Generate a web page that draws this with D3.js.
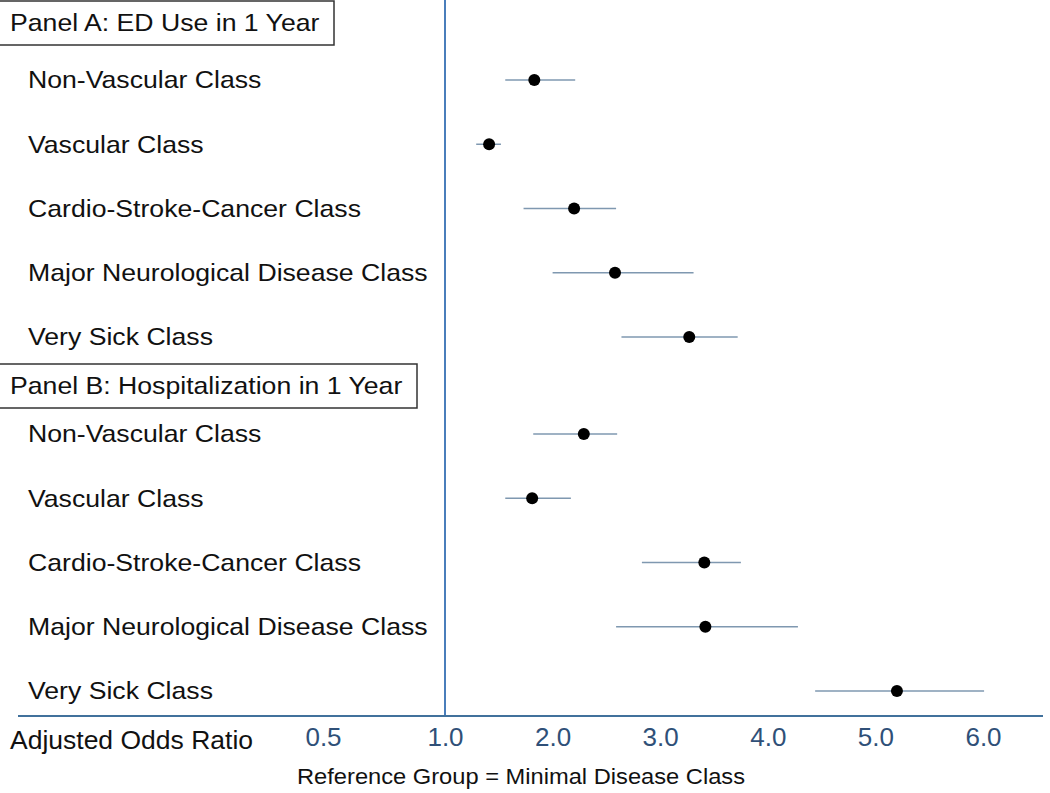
<!DOCTYPE html>
<html>
<head>
<meta charset="utf-8">
<script src="https://cdn.jsdelivr.net/npm/d3@7"></script>
<style>
  html, body { margin: 0; padding: 0; background: #fff; }
  svg { display: block; font-family: "Liberation Sans", Arial, sans-serif; }
</style>
</head>
<body>
<div id="chart"></div>
<script>
  // Values (adjusted odds ratio, lower/upper CI)
  const panels = ["Panel A: ED Use in 1 Year", "Panel B: Hospitalization in 1 Year"];
  const classes = [
    "Non-Vascular Class",
    "Vascular Class",
    "Cardio-Stroke-Cancer Class",
    "Major Neurological Disease Class",
    "Very Sick Class"
  ];
  const edOR = [1.83, 1.41, 2.20, 2.58, 3.27];
  const edLo = [1.56, 1.29, 1.73, 2.00, 2.64];
  const edHi = [2.21, 1.52, 2.59, 3.31, 3.72];
  const hospOR = [2.29, 1.81, 3.41, 3.42, 5.20];
  const hospLo = [1.82, 1.56, 2.83, 2.59, 4.44];
  const hospHi = [2.60, 2.17, 3.75, 4.28, 6.01];
  const tickValues = [0.5, 1, 2, 3, 4, 5, 6];

  const width = 1050, height = 793;
  const axisY = 716;
  const stretch = 1.11; // source text is slightly wide
  const headerBox = [{ y: 1, w: 334 }, { y: 364, w: 417 }];
  const firstRow = [80, 434];

  const series = [
    { or: edOR, lo: edLo, hi: edHi },
    { or: hospOR, lo: hospLo, hi: hospHi }
  ];

  // the 0.5 tick sits off the linear 1-6 run, so the scale is piecewise
  const x = d3.scaleLinear().domain([0.5, 1, 6]).range([323, 445, 983]);
  const row = d3.scaleLinear().domain([0, 4]).range([0, 257]);

  const svg = d3.select("#chart").append("svg")
      .attr("width", width)
      .attr("height", height);

  // reference line at OR = 1
  svg.append("line")
      .attr("x1", x(1)).attr("x2", x(1))
      .attr("y1", 0).attr("y2", axisY)
      .attr("stroke", "#4a7ebb")
      .attr("stroke-width", 2);

  panels.forEach((title, p) => {
    const g = svg.append("g");
    const box = headerBox[p];

    g.append("rect")
        .attr("x", -1).attr("y", box.y)
        .attr("width", box.w + 1).attr("height", 44)
        .attr("fill", "#fff")
        .attr("stroke", "#333")
        .attr("stroke-width", 1.5);

    g.append("text")
        .attr("transform", `translate(10,${box.y + 22}) scale(${stretch},1)`)
        .attr("dy", "0.35em")
        .attr("font-size", 24)
        .attr("fill", "#111")
        .text(title);

    const s = series[p];
    const rows = classes.map((c, i) => ({ name: c, or: s.or[i], lo: s.lo[i], hi: s.hi[i], y: firstRow[p] + row(i) }));

    g.selectAll("text.cls")
      .data(rows)
      .join("text")
        .attr("class", "cls")
        .attr("transform", d => `translate(28,${d.y}) scale(${stretch},1)`)
        .attr("dy", "0.35em")
        .attr("font-size", 24)
        .attr("fill", "#111")
        .text(d => d.name);

    g.selectAll("line.ci")
      .data(rows)
      .join("line")
        .attr("class", "ci")
        .attr("x1", d => x(d.lo))
        .attr("x2", d => x(d.hi))
        .attr("y1", d => d.y).attr("y2", d => d.y)
        .attr("stroke", "#7f98b0")
        .attr("stroke-width", 1.5);

    g.selectAll("circle")
      .data(rows)
      .join("circle")
        .attr("cx", d => x(d.or))
        .attr("cy", d => d.y)
        .attr("r", 6)
        .attr("fill", "#000");
  });

  // x axis
  svg.append("line")
      .attr("x1", 18).attr("x2", 1043)
      .attr("y1", axisY).attr("y2", axisY)
      .attr("stroke", "#41719c")
      .attr("stroke-width", 2);

  const axis = svg.append("g")
      .attr("transform", `translate(0,${axisY})`)
      .call(d3.axisBottom(x).tickValues(tickValues).tickSize(0).tickFormat(d3.format(".1f")));

  axis.select(".domain").remove();
  axis.selectAll("text")
      .attr("y", 21)
      .attr("dy", "0.35em")
      .attr("font-size", 26)
      .attr("font-family", "\"Liberation Sans\", Arial, sans-serif")
      .attr("fill", "#2f5078");

  svg.append("text")
      .attr("x", 10).attr("y", 740)
      .attr("dy", "0.35em")
      .attr("font-size", 26)
      .attr("textLength", 243)
      .attr("lengthAdjust", "spacingAndGlyphs")
      .attr("fill", "#111")
      .text("Adjusted Odds Ratio");

  svg.append("text")
      .attr("x", 297).attr("y", 776)
      .attr("dy", "0.35em")
      .attr("font-size", 22)
      .attr("textLength", 448)
      .attr("lengthAdjust", "spacingAndGlyphs")
      .attr("fill", "#111")
      .text("Reference Group = Minimal Disease Class");
</script>
</body>
</html>
